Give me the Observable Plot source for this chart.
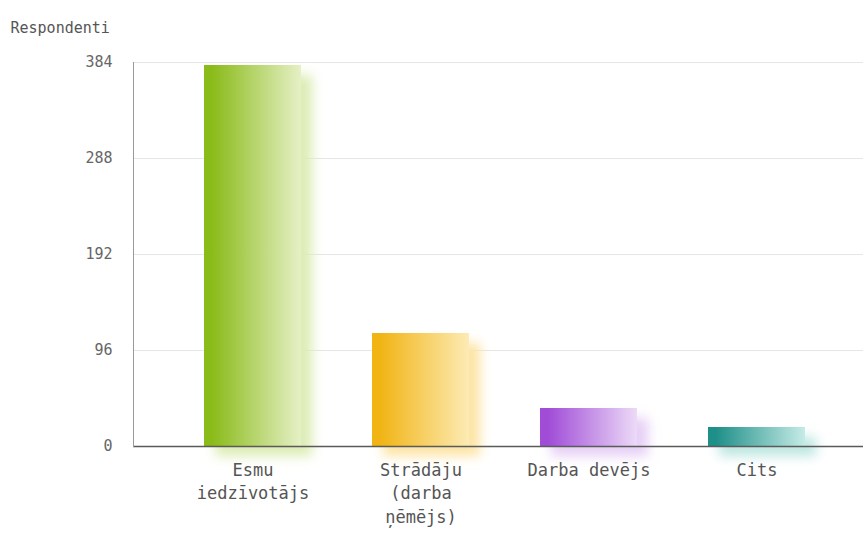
<!DOCTYPE html>
<html><head><meta charset="utf-8">
<script src="https://cdn.jsdelivr.net/npm/d3@7"></script>
<script src="https://cdn.jsdelivr.net/npm/@observablehq/plot@0.6"></script>
<style>body{margin:0;background:#fff}</style>
</head><body><div id="chart"></div>
<script>
const categories = ["Esmu\niedzīvotājs", "Strādāju\n(darba\nņēmējs)", "Darba devējs", "Cits"];
const respondents = [381, 113, 38, 19];
const yTicks = [0, 96, 192, 288, 384];
const yLabel = "Respondenti";

const barStart = ["#8abb19", "#f1b414", "#a04cd7", "#1f8f89"];
const barEnd = ["#e6f0c6", "#fdebb5", "#ecdaf7", "#c6ebe6"];
const shadowColor = ["#dcecb4", "#fde4a4", "#e6cff5", "#bce6e0"];

const data = categories.map((c, i) => ({category: c, value: respondents[i], i}));

const chart = Plot.plot({
  width: 863, height: 536,
  marginLeft: 133, marginRight: 0, marginTop: 62, marginBottom: 90,
  style: {fontFamily: "'DejaVu Sans Mono', monospace", background: "#fff"},
  x: {domain: categories, type: "band", paddingInner: 0.423, paddingOuter: 0.2115, insetLeft: 34.4, insetRight: 22.4, label: null},
  y: {domain: [0, 384], label: null},
  marks: [
    Plot.gridY(yTicks, {stroke: "#e6e6e6", strokeOpacity: 1}),
    Plot.barY(data, {x: "category", y: "value", fill: d => shadowColor[d.i], dx: 11, dy: 10}),
    Plot.barY(data, {x: "category", y: "value", fill: d => barStart[d.i]}),
    Plot.ruleY([0], {stroke: "#5a5a5a", strokeWidth: 1.5}),
    Plot.frame({anchor: "left", stroke: "#999"}),
    Plot.axisY({ticks: yTicks, tickSize: 0, tickPadding: 21, fontSize: 15, fill: "#666"}),
    Plot.axisX({tickSize: 0, tickPadding: 12, fontSize: 17, lineHeight: 1.41, fill: "#555", lineAnchor: "top"}),
    Plot.text([yLabel], {frameAnchor: "top-left", dx: -123, dy: -40, textAnchor: "start", fontSize: 15, fill: "#555"})
  ]
});

// gradients & soft shadow
const svg = d3.select(chart);
const defs = svg.insert("defs", ":first-child");
barStart.forEach((c, i) => {
  const g = defs.append("linearGradient").attr("id", "grad" + i).attr("x1", 0).attr("x2", 1).attr("y1", 0).attr("y2", 0);
  g.append("stop").attr("offset", 0).attr("stop-color", c);
  g.append("stop").attr("offset", 0.08).attr("stop-color", c);
  g.append("stop").attr("offset", 1).attr("stop-color", barEnd[i]);
});
const f = defs.append("filter").attr("id", "soft").attr("x", "-30%").attr("y", "-30%").attr("width", "160%").attr("height", "160%");
f.append("feGaussianBlur").attr("stdDeviation", 6);
const barGroups = chart.querySelectorAll('g[aria-label="bar"]');
barGroups[0].setAttribute("filter", "url(#soft)");
d3.select(barGroups[1]).selectAll("rect").attr("fill", (d, k) => `url(#grad${k})`);

document.getElementById("chart").appendChild(chart);
</script>
</body></html>
